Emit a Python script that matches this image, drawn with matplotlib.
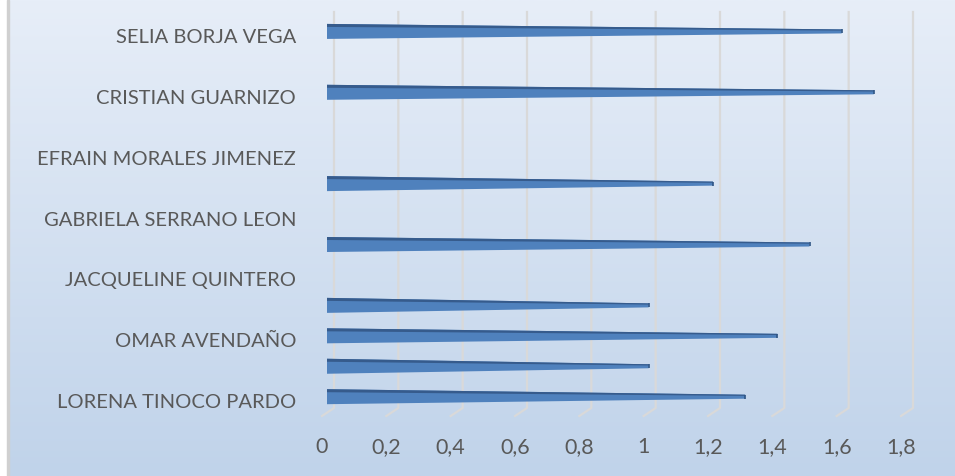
"""Tapered horizontal bar chart (Excel-style cone bars) of names vs values."""

import matplotlib.pyplot as plt
import numpy as np
from matplotlib.patches import Polygon, Rectangle
from matplotlib.transforms import blended_transform_factory

# bottom to top
names = [
    "LORENA TINOCO PARDO",
    "",
    "OMAR AVENDAÑO",
    "",
    "JACQUELINE QUINTERO",
    "",
    "GABRIELA SERRANO LEON",
    "",
    "EFRAIN MORALES JIMENEZ",
    "",
    "CRISTIAN GUARNIZO",
    "",
    "SELIA BORJA VEGA",
]
values = [1.3, 1.0, 1.4, 1.0, 0, 1.5, 0, 1.2, 0, 0, 1.7, 0, 1.6]
x_ticks = [0, 0.2, 0.4, 0.6, 0.8, 1.0, 1.2, 1.4, 1.6, 1.8]
x_tick_labels = ["0", "0,2", "0,4", "0,6", "0,8", "1", "1,2", "1,4", "1,6", "1,8"]

W, H, DPI = 955, 476, 100
TEXT = "#595959"
FACE = "#4F81BD"
TOP = "#365B8C"
GRID = "#D9D9D9"
FONT = "Lato"
FS = 14.5

fig = plt.figure(figsize=(W / DPI, H / DPI), dpi=DPI)

# background gradient
bg = fig.add_axes([0, 0, 1, 1], zorder=-2)
bg.axis("off")
grad = np.linspace(0, 1, 256).reshape(-1, 1)
top_c = np.array([0xE7, 0xEE, 0xF8]) / 255
bot_c = np.array([0xC0, 0xD3, 0xEA]) / 255
img = top_c + (bot_c - top_c) * grad[:, :, None]
bg.imshow(img, aspect="auto", extent=[0, 1, 0, 1])
bg.set_xlim(0, 1)
bg.set_ylim(0, 1)
fig.patches.append(Rectangle((0, 0), 7 / W, 1, transform=fig.transFigure, color="white", zorder=-1))
fig.patches.append(Rectangle((7 / W, 0), 1.5 / W, 1, transform=fig.transFigure, color="#D0D0D0", zorder=-1))

# plot area in pixels: x 334..913 (0..1.8), y 12..408
left, right, top, bottom = 334, 913, 12, 408
ax = fig.add_axes([left / W, (H - bottom) / H, (right - left) / W, (bottom - top) / H])
ax.axis("off")
ax.set_xlim(0, 1.8)
row = 30.44
ax.set_ylim(-(bottom - 396.7) / row, (396.7 - top) / row)

px_x = 1.8 / (right - left)
px_ax = 1 / (bottom - top)
blend = blended_transform_factory(ax.transData, ax.transAxes)

# gridlines with slanted floor
for t in x_ticks:
    ax.plot([t, t, t - 12 * px_x], [1, 0, -8 * px_ax], color=GRID, lw=1.6,
            transform=blend, clip_on=False, zorder=1)

for t, lab in zip(x_ticks, x_tick_labels):
    ax.text(t - 12 * px_x, -39 * px_ax, lab, transform=blend, ha="center", va="center",
            fontsize=15.5, color=TEXT, family=FONT)

# bars sit a little in front of the back wall
x0 = -7 * px_x
h0 = 15 / row
h1 = 4 / row
strip = 3 / row
for i, v in enumerate(values):
    if v == 0:
        continue
    x1 = x0 + v
    body = [(x0, i - h0 / 2), (x1, i - h1 / 2), (x1, i + h1 / 2), (x0, i + h0 / 2)]
    ax.add_patch(Polygon(body, closed=True, facecolor=FACE, edgecolor="none",
                         zorder=3, clip_on=False))
    top_face = [(x0, i + h0 / 2 - strip), (x1, i + h1 / 2 - strip * 0.4),
                (x1, i + h1 / 2), (x0, i + h0 / 2)]
    ax.add_patch(Polygon(top_face, closed=True, facecolor=TOP, edgecolor="none",
                         zorder=4, clip_on=False))
    ax.plot([x1, x1], [i - h1 / 2, i + h1 / 2], color="#2F5585", lw=1.2,
            zorder=5, solid_capstyle="butt", clip_on=False)

# category labels
lab_blend = blended_transform_factory(ax.transAxes, ax.transData)
for i, name in enumerate(names):
    if name:
        ax.text((296 - left) / (right - left), i - 6 / row, name, transform=lab_blend,
                ha="right", va="center", fontsize=FS, color=TEXT, family=FONT)

fig.savefig("out.png", dpi=DPI)
